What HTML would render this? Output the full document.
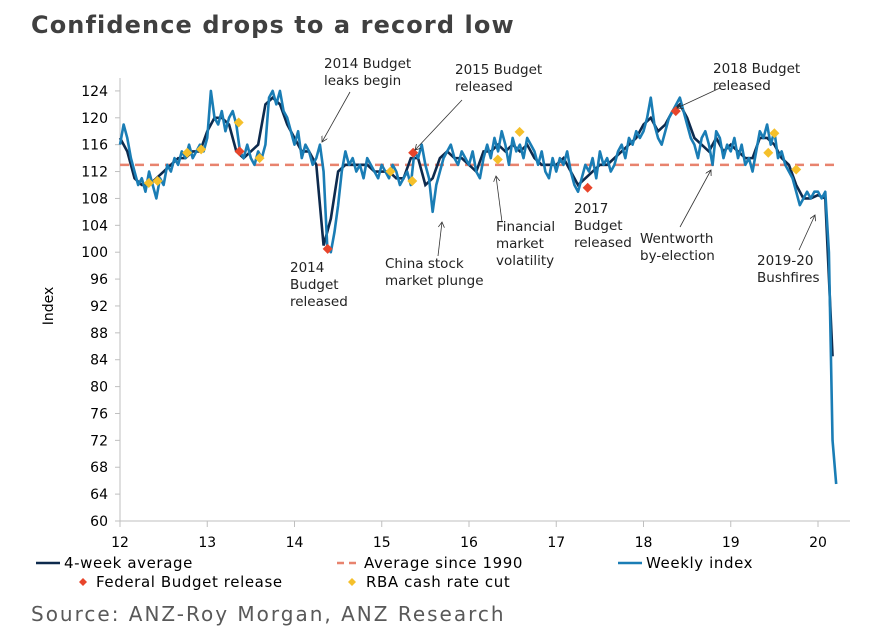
<!DOCTYPE html>
<html><head><meta charset="utf-8"><style>
body{margin:0;background:#fff;width:882px;height:644px;overflow:hidden;font-family:"DejaVu Sans","Liberation Sans",sans-serif}
svg{position:absolute;left:0;top:0}
</style></head><body>
<svg width="882" height="644" id="c">
<text x="31" y="33" font-size="24" font-weight="bold" fill="#404040" letter-spacing="1.1">Confidence drops to a record low</text>
<text x="31" y="621" font-size="20" fill="#595959" letter-spacing="2">Source: ANZ-Roy Morgan, ANZ Research</text>
<text transform="translate(53,306) rotate(-90)" text-anchor="middle" font-size="14" fill="#000">Index</text>
<g id="axes"></g><g id="marks"></g><g id="ann" font-size="13.5" fill="#222"></g><g id="legend" font-size="15" letter-spacing="0.6"></g>
</svg>
<script>
const yTicks=[60,64,68,72,76,80,84,88,92,96,100,104,108,112,116,120,124];
const xTicks=[12,13,14,15,16,17,18,19,20];
const weekly=[
116,119,117,114,112,110,111,109,112,110,108,111,110,113,112,114,113,115,114,116,114,115,116,115,
117,124,120,119,121,118,120,121,119,115,114,116,114,113,115,114,116,123,124,122,124,121,120,118,
116,118,114,116,115,113,114,116,112,101,100,103,107,112,115,113,114,112,113,111,114,113,112,111,
113,112,111,113,112,110,111,112,110,115,114,116,113,111,106,110,112,114,115,116,114,113,115,114,
113,115,112,111,114,116,114,117,115,118,116,113,117,115,116,114,117,116,115,113,115,112,111,114,
112,114,113,115,112,110,109,111,113,112,114,111,115,113,114,112,113,115,116,114,117,116,118,117,
118,120,123,119,117,116,118,120,121,122,123,121,119,117,116,114,117,118,116,113,118,117,114,116,
115,117,114,116,113,114,112,115,118,117,119,116,118,114,115,113,112,111,109,107,108,109,108,109,
109,108,109,100,72,65.5];
const avg4=[
117,115,111,110,110,111,112,113,114,114,115,115,
118,120,120,119,115,114,115,116,122,123,122,119,
117,115,115,113,101,105,112,113,113,113,113,112,
112,112,111,111,114,114,110,111,114,115,114,114,
113,112,115,115,116,115,116,115,116,114,113,113,
113,114,112,110,111,112,113,113,114,115,116,117,
119,120,118,119,121,122,120,117,116,115,117,115,
116,115,114,114,117,117,116,114,113,110,108,108,
108.5,108,84.5];
const longAvg=113;
const budgetDates=[13.37,14.38,15.36,17.36,18.37];
const budgetVals=[115,100.5,114.8,109.6,121];
const rbaDates=[12.33,12.43,12.77,12.93,13.36,13.6,15.1,15.35,16.33,16.58,19.43,19.5,19.75];
const rbaVals=[110.3,110.6,114.8,115.3,119.3,114,112,110.6,113.8,117.9,114.8,117.7,112.3];
const X=t=>120+(t-12)*87.25, Y=v=>521-(v-60)*6.72;
const NS="http://www.w3.org/2000/svg";
function mk(p,tag,a){const e=document.createElementNS(NS,tag);for(const k in a)e.setAttribute(k,a[k]);p.appendChild(e);return e;}
const axes=document.getElementById('axes'),marks=document.getElementById('marks');
let e=mk(axes,'line',{x1:120,y1:78,x2:120,y2:521,stroke:'#bfbfbf'});


e=mk(axes,'line',{x1:120,y1:521,x2:850,y2:521,stroke:'#bfbfbf'});


yTicks.forEach(v=>{mk(axes,'line',{x1:115,x2:120,y1:Y(v),y2:Y(v),stroke:'#bfbfbf'});
const t=mk(axes,'text',{x:108,y:Y(v)+5,'text-anchor':'end','font-size':14,fill:'#000'});t.textContent=v;

});
xTicks.forEach(v=>{mk(axes,'line',{x1:X(v),x2:X(v),y1:521,y2:527,stroke:'#bfbfbf'});
const t=mk(axes,'text',{x:X(v),y:547,'text-anchor':'middle','font-size':14,fill:'#000'});t.textContent=v;

});
e=mk(marks,'line',{x1:X(12),x2:X(20.2),y1:Y(longAvg),y2:Y(longAvg),stroke:'#e8836e','stroke-width':2.5,'stroke-dasharray':'9,6'});


e=mk(marks,'polyline',{points:avg4.map((v,i)=>X(12+i/12)+','+Y(v)).join(' '),fill:'none',stroke:'#0d2a4d','stroke-width':2.6});


e=mk(marks,'polyline',{points:weekly.map((v,i)=>X(12+i/24)+','+Y(v)).join(' '),fill:'none',stroke:'#1a7db5','stroke-width':2.6,'stroke-linejoin':'round'});


function dia(p,x,y,c,s){return mk(p,'polygon',{points:`${x},${y-s} ${x+s},${y} ${x},${y+s} ${x-s},${y}`,fill:c});}
rbaDates.forEach((d,i)=>{const m=dia(marks,X(d),Y(rbaVals[i]),'#f5c02b',5);

});
budgetDates.forEach((d,i)=>{const m=dia(marks,X(d),Y(budgetVals[i]),'#e8452b',5);

});
const ann=document.getElementById('ann');
mk(ann,'defs',{}).innerHTML='<marker id="ah" markerWidth="8" markerHeight="8" refX="7" refY="4" orient="auto"><path d="M0,0 L7,4 L0,8" fill="none" stroke="#333"/></marker>';
const notes=[
[['2014 Budget','leaks begin'],324,68,[350,92,322,142]],
[['2015 Budget','released'],455,74,[462,100,415,150]],
[['2018 Budget','released'],713,73,[720,88,677,108]],
[['2014','Budget','released'],290,272,null],
[['China stock','market plunge'],385,268,[438,256,442,222]],
[['Financial','market','volatility'],496,231,[502,222,496,176]],
[['2017','Budget','released'],574,213,null],
[['Wentworth','by-election'],640,243,[680,227,711,170]],
[['2019-20','Bushfires'],757,265,[799,250,815,215]]];
notes.forEach(n=>{const t=mk(ann,'text',{x:n[1],y:n[2]});


n[0].forEach((s,i)=>{const sp=mk(t,'tspan',{x:n[1],dy:i?17:0});sp.textContent=s;});
if(n[3]){const l=mk(ann,'line',{x1:n[3][0],y1:n[3][1],x2:n[3][2],y2:n[3][3],stroke:'#333','stroke-width':0.8,'marker-end':'url(#ah)'});

}});
const lg=document.getElementById('legend');
function item(nm,x,y,label,draw){const g=mk(lg,'g',{});draw(g);const t=mk(g,'text',{x:x,y:y+5});t.textContent=label;}
item('legend-4-week-average',64,563,'4-week average',g=>mk(g,'line',{x1:36,x2:60,y1:563,y2:563,stroke:'#0d2a4d','stroke-width':2.5}));
item('legend-average-since-1990',364,563,'Average since 1990',g=>mk(g,'line',{x1:337,x2:361,y1:563,y2:563,stroke:'#e8836e','stroke-width':2.5,'stroke-dasharray':'7,5'}));
item('legend-weekly-index',646,563,'Weekly index',g=>mk(g,'line',{x1:618,x2:642,y1:563,y2:563,stroke:'#1a7db5','stroke-width':2.5}));
item('legend-federal-budget',96,582,'Federal Budget release',g=>dia(g,83,582,'#e8452b',4));
item('legend-rba-cut',366,582,'RBA cash rate cut',g=>dia(g,352,582,'#f5c02b',4));
</script>
</body></html>
